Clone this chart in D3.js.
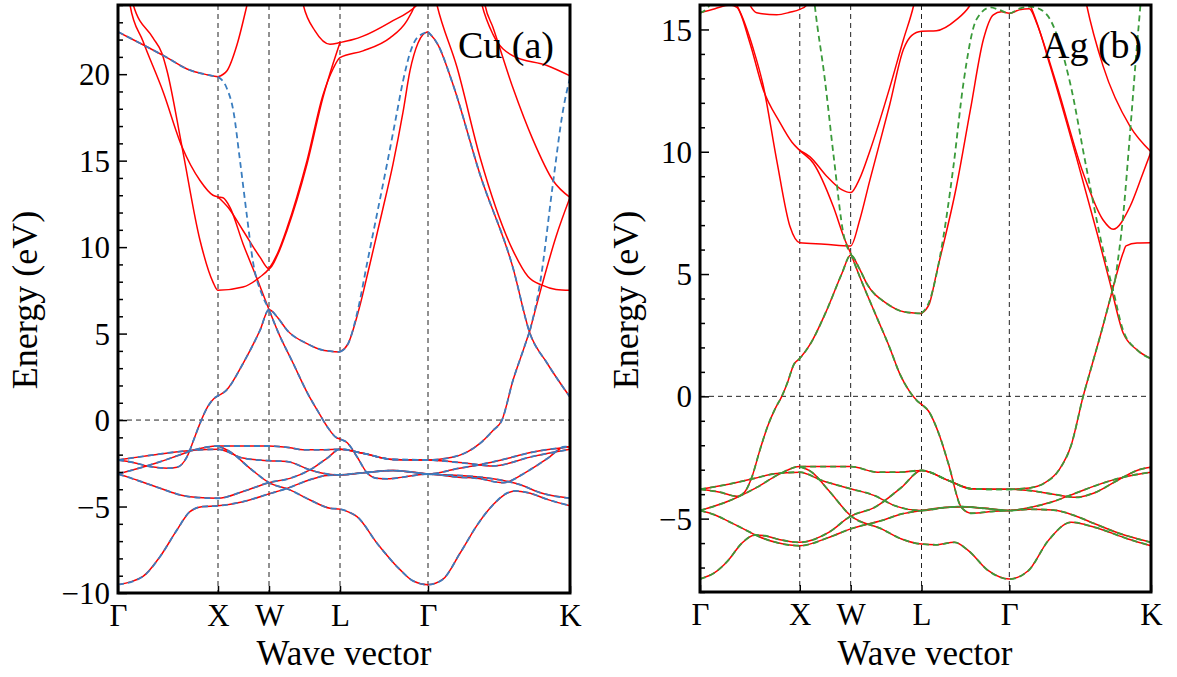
<!DOCTYPE html>
<html>
<head>
<meta charset="utf-8">
<script src="https://cdn.jsdelivr.net/npm/d3@7"></script>
<style>
  body { margin: 0; background: #fff; }
  svg text { font-family: "Liberation Serif", "Times New Roman", "DejaVu Serif", serif !important; fill: #000; }
</style>
</head>
<body>
<script>
// high-symmetry points along the path (k distance) and their labels
const kPoints = [0, 1, 1.51, 2.22, 3.10, 4.52];
const kLabels = ["Γ", "X", "W", "L", "Γ", "K"];

const cuTicks = [-10, -5, 0, 5, 10, 15, 20];
const agTicks = [-5, 0, 5, 10, 15];

// ---- Cu: bands drawn red solid with blue dashed on top
const cuLow1 = [[0,-9.52],[0.25,-9.04],[0.42,-7.9],[0.59,-6.35],[0.72,-5.29],[0.85,-5.0],[1,-4.96],[1.25,-4.72],[1.51,-4.27],[1.69,-3.95],[1.92,-3.45],[2.09,-3.2],[2.22,-3.17],[2.45,-3.05],[2.75,-2.92],[2.95,-3.02],[3.1,-3.12],[3.4,-3.2],[3.75,-3.4],[4.0,-3.7],[4.25,-4.25],[4.52,-4.52]];
const cuLow2 = [[0,-3.12],[0.1,-3.3],[0.25,-3.6],[0.45,-4.0],[0.6,-4.3],[0.8,-4.48],[1,-4.52],[1.25,-4.13],[1.51,-3.62],[1.72,-3.37],[1.92,-2.88],[2.09,-2.21],[2.22,-1.69],[2.45,-1.92],[2.75,-2.28],[3.1,-2.31],[3.49,-2.5],[3.75,-2.65],[4.15,-2.1],[4.52,-1.69]];
const cuLow3 = [[0,-2.31],[0.25,-2.1],[0.5,-1.9],[0.75,-1.75],[1,-1.69],[1.25,-2.2],[1.51,-2.35],[1.69,-2.4],[1.92,-2.88],[2.09,-3.12],[2.22,-3.17],[2.45,-3.05],[2.75,-2.92],[2.95,-3.02],[3.1,-3.12],[3.4,-2.8],[3.6,-2.6],[3.8,-2.35],[4.15,-1.85],[4.52,-1.54]];
const cuLow4 = [[0,-3.12],[0.2,-2.8],[0.4,-2.45],[0.6,-2.05],[0.75,-1.75],[0.88,-1.57],[1,-1.5],[1.25,-1.5],[1.51,-1.5],[1.72,-1.6],[1.85,-1.72],[2.05,-1.72],[2.22,-1.69],[2.45,-1.92],[2.75,-2.28],[3.1,-2.31],[3.3,-2.2],[3.49,-1.85],[3.62,-1.35],[3.75,-0.6],[3.84,0],[3.95,2.3],[4.05,4.0],[4.12,5.19]];
const cuLow5 = [[1,-1.5],[1.12,-1.83],[1.32,-2.79],[1.51,-3.62],[1.72,-4.04],[1.92,-4.62],[2.12,-5.1],[2.22,-5.15],[2.32,-5.35],[2.39,-5.58],[2.59,-7.12],[2.82,-8.65],[2.95,-9.3],[3.1,-9.52],[3.25,-9.2],[3.42,-7.7],[3.6,-6.0],[3.75,-4.9],[3.9,-4.2],[3.97,-4.1],[4.1,-4.2],[4.3,-4.6],[4.52,-4.96]];
const cuLow6 = [[0,-2.31],[0.15,-2.45],[0.32,-2.69],[0.5,-2.78],[0.59,-2.73],[0.69,-2.12],[0.76,-1.1],[0.82,-0.19],[0.9,0.8],[0.96,1.25],[1,1.4],[1.08,1.7],[1.25,3.27],[1.42,5.19],[1.51,6.39],[1.6,5.9],[1.69,5.2],[1.89,4.42],[2.05,4.04],[2.22,3.94]];
const cuLow7 = [[1.51,6.39],[1.6,5.1],[1.75,3.3],[1.9,1.5],[2.0,0.5],[2.1,-0.45],[2.18,-1.0],[2.22,-1.1],[2.29,-1.3],[2.39,-2.12],[2.49,-3.05],[2.59,-3.37],[2.7,-3.4],[2.85,-3.3],[3.1,-3.12],[3.4,-3.3],[3.59,-3.37],[3.85,-3.62],[4.09,-2.98],[4.3,-2.2],[4.47,-1.54],[4.52,-1.54]];
const cuGX = [[0,22.45],[0.25,21.7],[0.49,20.96],[0.69,20.3],[0.89,19.97],[1,19.85]];
const cuP = [[3.1,22.45],[3.2,21.7],[3.35,19.4],[3.62,14.2],[3.95,8.8],[4.12,5.0],[4.29,3.3],[4.52,1.33]];

// ---- Cu: red only
const cuRedLG = [[2.22,3.94],[2.3,4.4],[2.4,6.2],[2.52,9.04],[2.64,12.0],[2.75,14.8],[2.85,17.8],[2.92,20.2],[3.0,21.8],[3.05,22.3],[3.1,22.45]];
const cuRedXup = [[1,19.85],[1.09,20.2],[1.19,21.7],[1.29,24],[1.33,25]];
const cuRedB = [[0.08,26],[0.12,24],[0.25,21.9],[0.45,19.0],[0.64,15.8],[0.82,13.85],[0.95,13.0],[1,12.9],[1.05,12.85],[1.12,12.3],[1.25,10.2],[1.39,8.18],[1.51,6.39]];
const cuRedC = [[0.12,26],[0.153,24],[0.35,22.1],[0.44,21.2],[0.49,20.2],[0.64,15.8],[0.82,10.4],[0.95,7.98],[1,7.5],[1.25,7.69],[1.42,8.27],[1.51,8.75],[1.6,9.7],[1.69,11.1],[1.89,15.0],[2.05,18.8],[2.15,20.3],[2.22,20.96],[2.45,21.35],[2.72,22.1],[2.89,23.1],[2.97,24],[3.0,24.5]];
const cuRedD = [[1,12.9],[1.1,12.3],[1.25,10.96],[1.42,9.42],[1.51,8.75],[1.6,9.6],[1.69,10.96],[1.89,14.8],[2.05,18.66],[2.15,20.6],[2.22,21.83]];
const cuRedU = [[1.8,25.5],[1.853,24],[1.97,22.5],[2.12,21.73],[2.22,21.83],[2.35,22.0],[2.45,22.2],[2.72,23.0],[2.99,24],[3.05,24.4]];
const cuRedQ = [[3.15,25],[3.19,24],[3.39,20.4],[3.62,15.2],[3.95,9.8],[4.1,8.3],[4.24,7.8],[4.38,7.55],[4.52,7.5]];
const cuRed2 = [[3.6,25],[3.64,24],[3.75,22.3],[3.95,21.06],[4.29,20.5],[4.52,19.9]];
const cuRed3 = [[3.64,25],[3.67,24],[3.75,22.7],[3.95,19.2],[4.15,16.2],[4.35,13.85],[4.52,12.87]];
const cuRedSpK = [[4.12,5.19],[4.24,7.8],[4.38,10.6],[4.52,12.87]];

// ---- Cu: blue dashed only
const cuBlueXW = [[1,19.85],[1.087,19.2],[1.153,17.9],[1.22,15.0],[1.287,11.9],[1.353,9.04],[1.437,7.3],[1.51,6.44]];
const cuBlueLG = [[2.22,3.94],[2.3,4.4],[2.4,6.4],[2.49,9.04],[2.6,12.2],[2.69,14.8],[2.78,17.5],[2.85,19.6],[2.93,21.4],[2.99,22.1],[3.1,22.45]];
const cuBlueSpK = [[4.12,5.19],[4.22,7.9],[4.35,13.7],[4.45,17.9],[4.52,19.8]];

// ---- Ag: bands drawn red solid with green dashed on top
const agLow1 = [[0,-7.47],[0.15,-7.2],[0.28,-6.72],[0.42,-6.0],[0.55,-5.67],[0.65,-5.7],[0.79,-5.85],[1,-5.97],[1.29,-5.56],[1.51,-4.9],[1.75,-4.54],[2.02,-3.72],[2.22,-3.03],[2.49,-3.44],[2.72,-3.78],[2.9,-3.8],[3.1,-3.8],[3.3,-3.85],[3.54,-4.0],[3.77,-4.13],[3.95,-3.95],[4.2,-3.4],[4.4,-3.0],[4.52,-2.9]];
const agLow2 = [[0,-4.67],[0.15,-4.85],[0.28,-5.1],[0.45,-5.45],[0.6,-5.75],[0.79,-6.0],[1,-6.11],[1.29,-5.77],[1.51,-5.42],[1.82,-5.08],[2.02,-4.81],[2.22,-4.67],[2.45,-4.55],[2.62,-4.51],[2.85,-4.58],[3.1,-4.67],[3.3,-4.55],[3.54,-4.3],[3.77,-3.95],[4.0,-3.6],[4.25,-3.3],[4.52,-3.1]];
const agLow3 = [[0,-3.8],[0.3,-3.58],[0.55,-3.35],[0.74,-3.17],[1,-3.1],[1.22,-3.44],[1.51,-3.78],[1.75,-4.06],[1.95,-4.47],[2.22,-4.67],[2.45,-4.55],[2.62,-4.51],[2.85,-4.58],[3.1,-4.67],[3.3,-4.62],[3.54,-4.65],[3.77,-4.9],[3.95,-5.2],[4.2,-5.6],[4.52,-5.97]];
const agLow4 = [[0,-4.67],[0.3,-4.26],[0.57,-3.72],[0.8,-3.17],[1,-2.87],[1.25,-2.87],[1.51,-2.87],[1.78,-3.1],[2.0,-3.1],[2.22,-3.03],[2.49,-3.44],[2.72,-3.78],[2.9,-3.8],[3.1,-3.8]];
const agLow5 = [[1,-2.87],[1.12,-3.1],[1.29,-3.85],[1.51,-4.88],[1.82,-5.42],[2.02,-5.83],[2.22,-6.04],[2.36,-6.07],[2.55,-5.97],[2.69,-6.31],[2.89,-7.13],[3.1,-7.47],[3.29,-7.13],[3.49,-5.9],[3.72,-5.15],[3.96,-5.36],[4.29,-5.83],[4.52,-6.11]];
const agSp = [[0,-3.8],[0.2,-3.92],[0.37,-4.09],[0.45,-3.9],[0.52,-3.3],[0.6,-2.2],[0.68,-1.2],[0.76,-0.45],[0.82,0],[0.88,0.6],[0.94,1.3],[1,1.55],[1.1,2.1],[1.27,3.52],[1.42,5.0],[1.51,5.78],[1.6,5.2],[1.67,4.62],[1.87,3.8],[2.05,3.45],[2.22,3.39]];
const agLow7 = [[1.51,5.85],[1.6,4.9],[1.77,3.25],[1.9,2.0],[2.0,0.94],[2.1,0.2],[2.18,-0.2],[2.22,-0.33],[2.29,-0.6],[2.4,-1.6],[2.49,-2.76],[2.62,-4.54],[2.72,-4.78],[2.95,-4.7],[3.1,-4.67]];
const agSpGK = [[3.1,-3.8],[3.3,-3.75],[3.45,-3.55],[3.6,-3.0],[3.72,-2.0],[3.84,0],[3.93,1.3],[4.02,2.6],[4.16,4.75]];

// ---- Ag: red only
const agRedA1 = [[0,15.68],[0.15,15.85],[0.3,16.0],[0.37,15.9],[0.5,14.45],[0.634,12.54],[0.8,11.2],[0.92,10.4],[1,10.05],[1.136,9.53],[1.336,7.76],[1.453,6.39],[1.51,5.85]];
const agRedA2 = [[0.3,16.4],[0.38,15.9],[0.534,14.2],[0.634,12.7],[0.768,9.67],[0.902,6.94],[1,6.28],[1.25,6.22],[1.51,6.15],[1.6,7.2],[1.7,8.8],[1.9,11.9],[2.04,14.2],[2.12,14.75],[2.22,14.93],[2.37,14.95],[2.57,15.4],[2.7,15.95],[2.75,16.3]];
const agRedTop = [[0.46,16.3],[0.568,15.68],[0.768,15.6],[0.9,15.7],[1,15.82],[1.07,16.0],[1.1,16.2]];
const agRedWL = [[1,10.05],[1.1,9.8],[1.27,9.0],[1.42,8.45],[1.51,8.33],[1.6,8.9],[1.7,10.0],[1.9,12.6],[2.04,14.6],[2.14,15.96],[2.17,16.5]];
const agRedLG = [[2.22,3.39],[2.3,3.8],[2.37,5.03],[2.57,8.58],[2.71,11.72],[2.84,14.59],[2.94,15.6],[3.02,15.72],[3.1,15.66],[3.2,15.8],[3.3,15.85],[3.38,15.2],[3.51,13.5],[3.77,9.81],[3.98,6.67],[4.11,4.62],[4.24,2.6],[4.38,1.9],[4.52,1.54]];
const agRedU = [[3.2,17],[3.34,15.68],[3.57,12.8],[3.84,9.13],[4.04,7.21],[4.14,6.83],[4.31,7.76],[4.44,9.13],[4.52,10.0]];
const agRedK10 = [[3.85,16.5],[3.875,16],[4.04,13.5],[4.31,11.04],[4.52,10.0]];
const agRedSpK = [[4.16,4.75],[4.24,5.86],[4.27,6.15],[4.38,6.27],[4.52,6.28]];

// ---- Ag: green dashed only
const agGreenTop = [[0,15.68],[0.08,15.9],[0.15,16.4]];
const agGreenXW = [[1.1,18],[1.15,16],[1.25,13.0],[1.34,9.8],[1.44,6.6],[1.51,5.84]];
const agGreenLGK = [[2.22,3.39],[2.3,3.9],[2.405,5.71],[2.54,9.4],[2.64,12.8],[2.77,15.4],[2.91,15.9],[3.0,15.8],[3.1,15.66],[3.2,15.85],[3.31,15.93],[3.42,15.8],[3.51,15.4],[3.71,12.8],[3.87,9.4],[4.04,5.98],[4.14,4.34],[4.24,2.7],[4.38,1.9],[4.52,1.54]];
const agGreenSpK = [[4.16,4.75],[4.24,7.35],[4.31,10.77],[4.376,14.18],[4.41,15.8],[4.43,16.8]];

const red = "#ff0000";
const blue = "#3a7dbf";
const green = "#3a9a3a";
const serif = "'Liberation Serif', 'Times New Roman', 'DejaVu Serif', serif";
const fontTick = 31;

const svg = d3.select("body").append("svg")
  .attr("width", 1177).attr("height", 677)
  .attr("font-family", serif);

const cuShared = [cuLow1, cuLow2, cuLow3, cuLow4, cuLow5, cuLow6, cuLow7, cuGX, cuP];
const agShared = [agLow1, agLow2, agLow3, agLow4, agLow5, agSp, agLow7, agSpGK];

const panels = [
  {
    name: "cu", left: 118, right: 570, top: 5, bottom: 593,
    yDomain: [-10, 24], ticks: cuTicks,
    solid: cuShared.concat([cuRedLG, cuRedXup, cuRedB, cuRedC, cuRedD, cuRedU, cuRedQ, cuRed2, cuRed3, cuRedSpK]),
    dashed: cuShared.concat([cuBlueXW, cuBlueLG, cuBlueSpK]),
    dashColor: blue, title: "Cu (a)", titleX: 458, titleY: 58,
    yLabelX: 37, xLabelX: 344
  },
  {
    name: "ag", left: 700, right: 1151, top: 5, bottom: 592,
    yDomain: [-8, 16], ticks: agTicks,
    solid: agShared.concat([agRedA1, agRedA2, agRedTop, agRedWL, agRedLG, agRedU, agRedK10, agRedSpK]),
    dashed: agShared.concat([agGreenTop, agGreenXW, agGreenLGK, agGreenSpK]),
    dashColor: green, title: "Ag (b)", titleX: 1042, titleY: 58,
    yLabelX: 638, xLabelX: 925
  }
];

panels.forEach(drawPanel);

function drawPanel(p) {
  const x = d3.scaleLinear().domain([0, 4.52]).range([p.left, p.right]);
  const y = d3.scaleLinear().domain(p.yDomain).range([p.bottom, p.top]);

  svg.append("clipPath").attr("id", "clip-" + p.name)
    .append("rect")
    .attr("x", p.left).attr("y", p.top)
    .attr("width", p.right - p.left).attr("height", p.bottom - p.top);

  const plot = svg.append("g").attr("clip-path", "url(#clip-" + p.name + ")");

  // guide lines at the symmetry points and at E = 0
  plot.selectAll("line.vguide")
    .data(kPoints.slice(1, -1))
    .join("line")
    .attr("class", "vguide")
    .attr("x1", (d) => x(d)).attr("x2", (d) => x(d))
    .attr("y1", p.top).attr("y2", p.bottom)
    .attr("stroke", "#222").attr("stroke-width", 1)
    .attr("stroke-dasharray", "5,4");

  plot.append("line")
    .attr("x1", p.left).attr("x2", p.right)
    .attr("y1", y(0)).attr("y2", y(0))
    .attr("stroke", "#222").attr("stroke-width", 1)
    .attr("stroke-dasharray", "5,4");

  const line = d3.line()
    .x((d) => x(d[0]))
    .y((d) => y(d[1]))
    .curve(d3.curveMonotoneX);

  plot.selectAll("path.solid")
    .data(p.solid)
    .join("path")
    .attr("class", "solid")
    .attr("d", line)
    .attr("fill", "none")
    .attr("stroke", red)
    .attr("stroke-width", 1.5);

  plot.selectAll("path.dashed")
    .data(p.dashed)
    .join("path")
    .attr("class", "dashed")
    .attr("d", line)
    .attr("fill", "none")
    .attr("stroke", p.dashColor)
    .attr("stroke-width", 1.8)
    .attr("stroke-dasharray", "6,4");

  // y axis: major and minor ticks pointing inwards
  const minor = d3.range(Math.ceil(p.yDomain[0]), p.yDomain[1] + 1, 1)
    .filter((v) => v % 5 !== 0);

  svg.append("g")
    .attr("transform", "translate(" + p.left + ",0)")
    .call(d3.axisLeft(y).tickValues(minor).tickSize(-5).tickFormat(""))
    .call((g) => g.select(".domain").remove())
    .selectAll("line").attr("stroke-width", 1.5);

  const yAxis = svg.append("g")
    .attr("transform", "translate(" + p.left + ",0)")
    .call(d3.axisLeft(y).tickValues(p.ticks).tickSizeInner(-9).tickSizeOuter(0).tickPadding(8));
  yAxis.attr("font-family", serif).attr("font-size", fontTick);
  yAxis.select(".domain").remove();
  yAxis.selectAll("line").attr("stroke-width", 1.5);
  yAxis.selectAll("text")
    .attr("font-family", serif)
    .attr("font-size", fontTick)
    .attr("dy", "0.34em");

  // x axis: symmetry point labels
  const xAxis = svg.append("g")
    .attr("transform", "translate(0," + p.bottom + ")")
    .call(d3.axisBottom(x).tickValues(kPoints)
      .tickFormat((d, i) => kLabels[i])
      .tickSizeInner(-7).tickSizeOuter(0).tickPadding(11));
  xAxis.attr("font-family", serif).attr("font-size", fontTick);
  xAxis.select(".domain").remove();
  xAxis.selectAll("line").attr("stroke-width", 1.5);
  xAxis.selectAll("text")
    .attr("font-family", serif)
    .attr("font-size", fontTick);

  // frame
  svg.append("rect")
    .attr("x", p.left).attr("y", p.top)
    .attr("width", p.right - p.left).attr("height", p.bottom - p.top)
    .attr("fill", "none").attr("stroke", "#000").attr("stroke-width", 3);

  // titles
  svg.append("text")
    .attr("x", p.titleX).attr("y", p.titleY)
    .attr("font-family", serif)
    .attr("font-size", 38)
    .text(p.title);

  svg.append("text")
    .attr("transform", "translate(" + p.yLabelX + ",300) rotate(-90)")
    .attr("text-anchor", "middle")
    .attr("font-family", serif)
    .attr("font-size", 36)
    .text("Energy (eV)");

  svg.append("text")
    .attr("x", p.xLabelX).attr("y", 665)
    .attr("text-anchor", "middle")
    .attr("font-family", serif)
    .attr("font-size", 35)
    .text("Wave vector");
}
</script>
</body>
</html>
